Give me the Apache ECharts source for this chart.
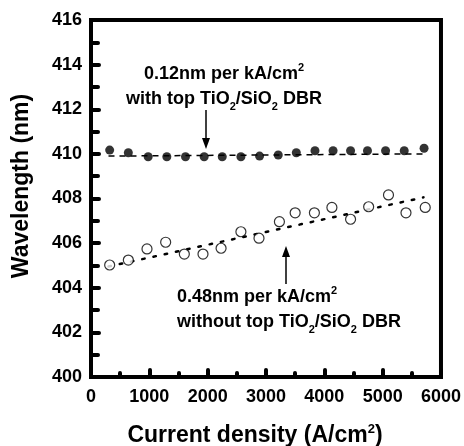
<!DOCTYPE html>
<html>
<head>
<meta charset="utf-8">
<script src="https://cdn.jsdelivr.net/npm/echarts@6/dist/echarts.min.js"></script>
<style>
  html, body { margin: 0; padding: 0; background: #fff; }
  #box { width: 464px; height: 446px; }
</style>
</head>
<body>
<div id="box"></div>
<script>
// 带 DBR 的数据 (实心点)
const xWithDbr = [320, 640, 980, 1300, 1620, 1940, 2250, 2570, 2890, 3210, 3520, 3840, 4150, 4450, 4740, 5050, 5370, 5710];
const yWithDbr = [410.17, 410.05, 409.87, 409.87, 409.87, 409.87, 409.87, 409.87, 409.9, 409.95, 410.05, 410.14, 410.14, 410.14, 410.14, 410.14, 410.14, 410.25];
// 不带 DBR 的数据 (空心点)
const xNoDbr = [320, 640, 960, 1280, 1600, 1920, 2230, 2570, 2880, 3230, 3500, 3830, 4130, 4450, 4760, 5100, 5400, 5730];
const yNoDbr = [405.02, 405.24, 405.74, 406.04, 405.51, 405.51, 405.77, 406.51, 406.22, 406.96, 407.36, 407.36, 407.6, 407.07, 407.63, 408.16, 407.36, 407.6];
// 拟合线端点
const fitWithX = [300, 5700];
const fitWithY = [409.9, 410.0];
const fitNoX = [300, 5700];
const fitNoY = [404.95, 408.05];

const font = 'Liberation Sans, Arial, sans-serif';

const zip = (xs, ys) => xs.map((x, i) => [x, ys[i]]);

var myChart = echarts.init(document.getElementById('box'));

const option = {
  animation: false,
  backgroundColor: '#fff',
  grid: {
    left: 91, right: 20, top: 20, bottom: 69,
    show: true, borderColor: '#000', borderWidth: 4
  },
  xAxis: {
    type: 'value', min: 0, max: 6000, interval: 1000,
    axisLine: { lineStyle: { color: '#000', width: 4 } },
    axisTick: { inside: true, length: 7, lineStyle: { color: '#000', width: 4, cap: 'round' } },
    minorTick: { show: true, splitNumber: 2, length: 4, lineStyle: { color: '#000', width: 4, cap: 'round' } },
    splitLine: { show: false },
    axisLabel: {
      color: '#000', fontFamily: font, fontWeight: 'bold', fontSize: 18, margin: 11,
      formatter: function (value) { return String(value); }
    }
  },
  yAxis: {
    type: 'value', min: 400, max: 416, interval: 2,
    axisLine: { lineStyle: { color: '#000', width: 4 } },
    axisTick: { inside: true, length: 8, lineStyle: { color: '#000', width: 4, cap: 'round' } },
    minorTick: { show: true, splitNumber: 2, length: 7, lineStyle: { color: '#000', width: 4, cap: 'round' } },
    splitLine: { show: false },
    axisLabel: {
      color: '#000', fontFamily: font, fontWeight: 'bold', fontSize: 18, margin: 9,
      formatter: function (value) { return String(value); }
    }
  },
  series: [
    {
      type: 'line', data: zip(fitWithX, fitWithY), symbol: 'none',
      lineStyle: { color: '#000', width: 1.5, type: [6, 5] }, z: 1
    },
    {
      type: 'line', data: zip(fitNoX, fitNoY), symbol: 'none',
      lineStyle: { color: '#000', width: 2.5, type: [2.5, 9], cap: 'round' }, z: 1
    },
    {
      type: 'scatter', data: zip(xWithDbr, yWithDbr), symbol: 'circle', symbolSize: 9,
      itemStyle: { color: '#000' }, z: 3
    },
    {
      type: 'scatter', data: zip(xNoDbr, yNoDbr), symbol: 'circle', symbolSize: 10,
      itemStyle: { color: '#fff', borderColor: '#000', borderWidth: 1.2 }, z: 3
    }
  ],
  graphic: [
    // y 轴标题
    {
      type: 'text', x: 22, y: 186, rotation: Math.PI / 2,
      style: {
        text: 'Wavelength (nm)', fontFamily: font, fontWeight: 'bold', fontSize: 23,
        fill: '#000', align: 'center', verticalAlign: 'middle'
      }
    },
    // x 轴标题
    {
      type: 'text', x: 255, y: 436,
      style: {
        text: '{n|Current density (A/cm}{sup|2}{n|)}',
        align: 'center', verticalAlign: 'middle',
        rich: {
          n: { fontFamily: font, fontWeight: 'bold', fontSize: 23, lineHeight: 26, fill: '#000' },
          sup: { fontFamily: font, fontWeight: 'bold', fontSize: 13, lineHeight: 13, verticalAlign: 'top', fill: '#000' }
        }
      }
    },
    // 上方注释
    {
      type: 'text', x: 224, y: 87,
      style: {
        text: '{n|0.12nm per kA/cm}{sup|2}\n{n|with top TiO}{sub|2}{n|/SiO}{sub|2}{n| DBR}',
        align: 'center', verticalAlign: 'middle',
        rich: {
          n: { fontFamily: font, fontWeight: 'bold', fontSize: 18, lineHeight: 25, fill: '#000' },
          sup: { fontFamily: font, fontWeight: 'bold', fontSize: 11, lineHeight: 14, verticalAlign: 'top', fill: '#000' },
          sub: { fontFamily: font, fontWeight: 'bold', fontSize: 11, lineHeight: 10, verticalAlign: 'bottom', fill: '#000' }
        }
      }
    },
    {
      type: 'line', shape: { x1: 206, y1: 110, x2: 206, y2: 140 },
      style: { stroke: '#000', lineWidth: 1.5 }
    },
    {
      type: 'polygon', shape: { points: [[202, 138], [210, 138], [206, 149]] },
      style: { fill: '#000' }
    },
    // 下方注释
    {
      type: 'text', x: 177, y: 310,
      style: {
        text: '{n|0.48nm per kA/cm}{sup|2}\n{n|without top TiO}{sub|2}{n|/SiO}{sub|2}{n| DBR}',
        align: 'left', verticalAlign: 'middle',
        rich: {
          n: { fontFamily: font, fontWeight: 'bold', fontSize: 18, lineHeight: 25, fill: '#000' },
          sup: { fontFamily: font, fontWeight: 'bold', fontSize: 11, lineHeight: 14, verticalAlign: 'top', fill: '#000' },
          sub: { fontFamily: font, fontWeight: 'bold', fontSize: 11, lineHeight: 10, verticalAlign: 'bottom', fill: '#000' }
        }
      }
    },
    {
      type: 'line', shape: { x1: 286, y1: 284, x2: 286, y2: 255 },
      style: { stroke: '#000', lineWidth: 1.5 }
    },
    {
      type: 'polygon', shape: { points: [[282, 257], [290, 257], [286, 246]] },
      style: { fill: '#000' }
    }
  ]
};

myChart.setOption(option);
</script>
</body>
</html>
